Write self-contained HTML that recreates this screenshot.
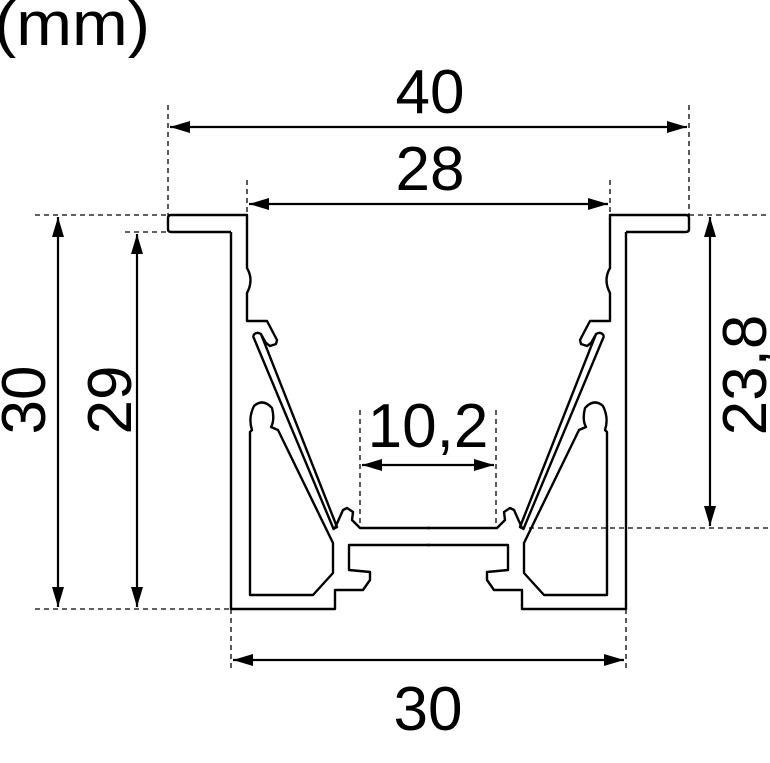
<!DOCTYPE html>
<html><head><style>html,body{margin:0;padding:0;background:#fff}svg{display:block}</style></head>
<body>
<svg width="770" height="763" viewBox="0 0 770 763" xmlns="http://www.w3.org/2000/svg" font-family="Liberation Sans, sans-serif">
<defs>
<marker id="b" viewBox="0 0 20 12" refX="20" refY="6" markerWidth="20" markerHeight="12" orient="auto-start-reverse" markerUnits="userSpaceOnUse"><path d="M0,0 L20,6 L0,12z" fill="#000"/></marker>
<g id="half" fill="none" stroke="#000" stroke-width="2.4" stroke-linejoin="round">
<path d="M231,232 L171,232 Q168,232 168,229 L168,218 Q168,215 171,215 L247,215 L247,268 Q254,280 247,293 L247,321 L267,321 L277,340 L276,344 L270,346 L266,343 L262,336"/>
<path d="M231,232 L231,609 L335,609 L335,590 L363,590 L370,580 L370,572 L349,570 L349,545 L430,545"/>
<path d="M253,336 Q256,331 261,334 L337,527 L335,528 L343,510 L347,508 L353,512 L352,520 L360,528 L430,528"/>
<path d="M253,336 L334,530"/>
<path d="M250,595 L250,432 L252,430 Q248,418 254,406 Q263,398 272,408 Q275,420 271,427 L278,430 L333,543 L333,573 L313,595 Z"/>
</g>
</defs>
<use href="#half"/>
<use href="#half" transform="translate(857,0) scale(-1,1)"/>
<g stroke="#000" stroke-width="1.3" stroke-dasharray="5,4" fill="none">
<path d="M168,105V215 M689,105V215 M247,180V215 M610,180V215 M35,215H168 M35,609H231 M125,232H168 M689,215H770 M520,528H770 M360,410V528 M496,410V528 M231,609V672 M626,609V672"/>
</g>
<g stroke="#000" stroke-width="2.2" fill="none">
<line x1="170" y1="127" x2="687" y2="127" marker-start="url(#b)" marker-end="url(#b)"/>
<line x1="249" y1="204" x2="608" y2="204" marker-start="url(#b)" marker-end="url(#b)"/>
<line x1="58" y1="217" x2="58" y2="607" marker-start="url(#b)" marker-end="url(#b)"/>
<line x1="137" y1="234" x2="137" y2="607" marker-start="url(#b)" marker-end="url(#b)"/>
<line x1="710" y1="217" x2="710" y2="526" marker-start="url(#b)" marker-end="url(#b)"/>
<line x1="362" y1="465" x2="494" y2="465" marker-start="url(#b)" marker-end="url(#b)"/>
<line x1="233" y1="660" x2="624" y2="660" marker-start="url(#b)" marker-end="url(#b)"/>
</g>
<g font-size="62" fill="#000" text-anchor="middle">
<text x="-6" y="45" text-anchor="start" textLength="156" lengthAdjust="spacingAndGlyphs">(mm)</text>
<text x="430" y="113">40</text>
<text x="430" y="190">28</text>
<text x="428" y="447">10,2</text>
<text x="428" y="730">30</text>
<text transform="translate(45,400) rotate(-90)">30</text>
<text transform="translate(131,400) rotate(-90)">29</text>
<text transform="translate(766,375) rotate(-90)">23,8</text>
</g>
</svg>
</body></html>
